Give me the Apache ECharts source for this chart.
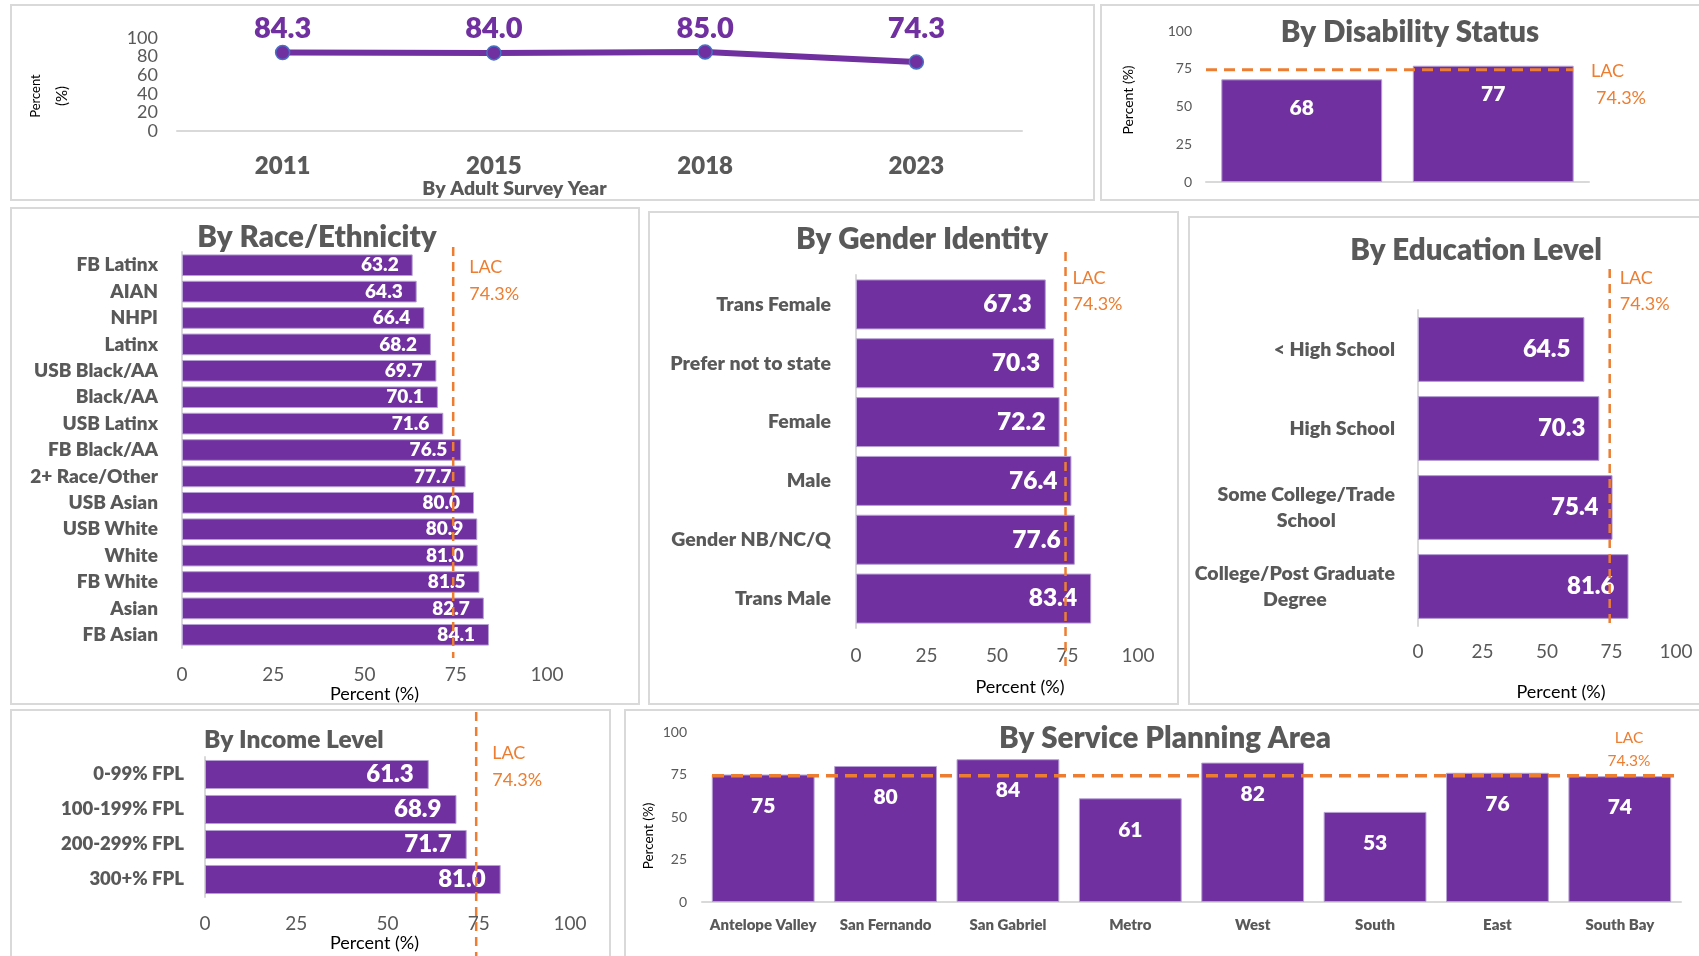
<!DOCTYPE html>
<html>
<head>
<meta charset="utf-8">
<script src="https://cdn.jsdelivr.net/npm/echarts@6/dist/echarts.min.js"></script>
<style>
  html, body { margin: 0; padding: 0; background: #ffffff; }
  #chart { width: 1699px; height: 956px; }
</style>
</head>
<body>
<div id="chart"></div>
<script>
// ---- Data ----
const lacRate = 74.3;

const surveyYears = ['2011', '2015', '2018', '2023'];
const surveyRates = [84.3, 84.0, 85.0, 74.3];

const disabilityGroups = ['With Disability', 'Without Disability'];
const disabilityRates = [68, 77];

const raceGroups = ['FB Latinx', 'AIAN', 'NHPI', 'Latinx', 'USB Black/AA', 'Black/AA', 'USB Latinx',
  'FB Black/AA', '2+ Race/Other', 'USB Asian', 'USB White', 'White', 'FB White', 'Asian', 'FB Asian'];
const raceRates = [63.2, 64.3, 66.4, 68.2, 69.7, 70.1, 71.6, 76.5, 77.7, 80.0, 80.9, 81.0, 81.5, 82.7, 84.1];

const genderGroups = ['Trans Female', 'Prefer not to state', 'Female', 'Male', 'Gender NB/NC/Q', 'Trans Male'];
const genderRates = [67.3, 70.3, 72.2, 76.4, 77.6, 83.4];

const educationGroups = ['< High School', 'High School', 'Some College/Trade\nSchool', 'College/Post Graduate\nDegree'];
const educationRates = [64.5, 70.3, 75.4, 81.6];

const incomeGroups = ['0-99% FPL', '100-199% FPL', '200-299% FPL', '300+% FPL'];
const incomeRates = [61.3, 68.9, 71.7, 81.0];

const spaAreas = ['Antelope Valley', 'San Fernando', 'San Gabriel', 'Metro', 'West', 'South', 'East', 'South Bay'];
const spaRates = [75, 80, 84, 61, 82, 53, 76, 74];

// ---- Styling ----
const FONT = 'Lato, "Open Sans", sans-serif';
const HEAVY = 800;
const PURPLE = '#7030A0';
const ORANGE = '#ED7D31';
const GRAY = '#595959';
const RULE = '#D9D9D9';

const chart = echarts.init(document.getElementById('chart'), null, { renderer: 'canvas' });

const grids = [], xAxes = [], yAxes = [], series = [];

// ---- Trend line by survey year ----
grids.push({ left: 177, top: 38, width: 845, height: 93 });
xAxes.push({
  gridIndex: 0, type: 'category', data: surveyYears,
  axisLine: { lineStyle: { color: RULE, width: 2 } }, axisTick: { show: false },
  axisLabel: { color: GRAY, fontFamily: FONT, fontWeight: HEAVY, fontSize: 24, margin: 23 },
  name: 'By Adult Survey Year', nameLocation: 'middle', nameGap: 43,
  nameTextStyle: { color: GRAY, fontFamily: FONT, fontWeight: HEAVY, fontSize: 19.5, padding: [0, 170, 0, 0] }
});
yAxes.push({
  gridIndex: 0, type: 'value', min: 0, max: 100, interval: 20,
  axisLine: { show: false }, axisTick: { show: false }, splitLine: { show: false },
  axisLabel: { color: GRAY, fontFamily: FONT, fontSize: 18, margin: 19 }
});
series.push({
  id: 'survey', type: 'line', xAxisIndex: 0, yAxisIndex: 0, data: surveyRates,
  symbol: 'circle', symbolSize: 14,
  lineStyle: { color: PURPLE, width: 6 },
  itemStyle: { color: PURPLE, borderColor: '#4472C4', borderWidth: 1.5 },
  label: { show: true, position: 'inside', color: PURPLE, fontFamily: FONT, fontWeight: HEAVY, fontSize: 29,
    formatter: p => Number(p.value).toFixed(1) },
  z: 3
});

// ---- Vertical bar panels ----
function columnPanel(g, cats, vals, o) {
  grids.push(o.grid);
  xAxes.push({
    gridIndex: g, type: 'category', data: cats,
    axisLine: { lineStyle: { color: RULE, width: 2 } }, axisTick: { show: false },
    axisLabel: o.catLabels ? { color: GRAY, fontFamily: FONT, fontWeight: HEAVY, fontSize: o.catSize, margin: o.catMargin, interval: 0 } : { show: false }
  });
  yAxes.push({
    gridIndex: g, type: 'value', min: 0, max: 100, interval: 25,
    axisLine: { show: false }, axisTick: { show: false }, splitLine: { show: false },
    axisLabel: { color: GRAY, fontFamily: FONT, fontSize: o.tickSize, margin: o.tickMargin }
  });
  series.push({
    type: 'bar', xAxisIndex: g, yAxisIndex: g, data: vals, barCategoryGap: o.gap,
    itemStyle: { color: PURPLE, borderColor: '#B7A0D3', borderWidth: 1 },
    label: { show: true, position: 'insideTop', distance: o.labelDist, color: '#ffffff', fontFamily: FONT,
      fontWeight: HEAVY, fontSize: o.valSize, formatter: p => String(Math.round(p.value)) }
  });
}

// ---- Horizontal bar panels ----
function barPanel(g, cats, vals, o) {
  grids.push(o.grid);
  xAxes.push({
    gridIndex: g, type: 'value', min: 0, max: 100, interval: 25,
    axisLine: { show: false }, axisTick: { show: false }, splitLine: { show: false },
    axisLabel: { color: GRAY, fontFamily: FONT, fontSize: 19, margin: o.tickMargin },
    name: 'Percent (%)', nameLocation: 'middle', nameGap: o.nameGap,
    nameTextStyle: { color: '#000000', fontFamily: FONT, fontSize: 18, padding: o.namePad }
  });
  yAxes.push({
    gridIndex: g, type: 'category', data: cats, inverse: true,
    axisLine: { lineStyle: { color: RULE, width: 2 } }, axisTick: { show: false },
    axisLabel: { color: GRAY, fontFamily: FONT, fontWeight: HEAVY, fontSize: o.catSize, margin: o.catMargin,
      interval: 0, lineHeight: o.catLineHeight || undefined }
  });
  series.push({
    type: 'bar', xAxisIndex: g, yAxisIndex: g, data: vals, barCategoryGap: o.gap,
    itemStyle: { color: PURPLE, borderColor: '#B7A0D3', borderWidth: 1 },
    label: { show: true, position: 'insideRight', distance: o.labelDist, color: '#ffffff', fontFamily: FONT,
      fontWeight: HEAVY, fontSize: o.valSize, formatter: p => Number(p.value).toFixed(1) }
  });
}

columnPanel(1, disabilityGroups, disabilityRates, {
  grid: { left: 1206, top: 31, width: 383, height: 151 }, gap: '16%',
  tickSize: 14, tickMargin: 14, valSize: 21, labelDist: 18, catLabels: false
});
barPanel(2, raceGroups, raceRates, {
  grid: { left: 182, top: 252, width: 365, height: 396 }, gap: '18%',
  catSize: 19, catMargin: 24, valSize: 19, labelDist: 14, tickMargin: 17, nameGap: 35, namePad: [0, 0, 0, 20]
});
barPanel(3, genderGroups, genderRates, {
  grid: { left: 856, top: 275, width: 282, height: 353 }, gap: '15%',
  catSize: 19.5, catMargin: 25, valSize: 24.5, labelDist: 14, tickMargin: 18, nameGap: 50, namePad: [0, 0, 0, 46]
});

// Multi-line education labels: lines centred on each other, block right-aligned against the axis
const EDU_CAT_SIZE = 19.5;
const measureCtx = document.createElement('canvas').getContext('2d');
measureCtx.font = HEAVY + ' ' + EDU_CAT_SIZE + 'px ' + FONT;
const educationAxisData = educationGroups.map(name => {
  const lines = name.split('\n');
  if (lines.length === 1) return name;
  const w = Math.max(...lines.map(l => measureCtx.measureText(l).width));
  return { value: name, textStyle: { align: 'center', padding: [0, w, 0, 0] } };
});
barPanel(4, educationGroups, educationRates, {
  grid: { left: 1418, top: 310, width: 258, height: 316 }, gap: '18%',
  catSize: EDU_CAT_SIZE, catMargin: 23, catLineHeight: 26, valSize: 24, labelDist: 14, tickMargin: 16, nameGap: 57, namePad: [0, 0, 0, 28]
});
yAxes[4].data = educationAxisData;

barPanel(5, incomeGroups, incomeRates, {
  grid: { left: 205, top: 757, width: 365, height: 140 }, gap: '17%',
  catSize: 18.5, catMargin: 21, valSize: 24, labelDist: 15, tickMargin: 17, nameGap: 29, namePad: [0, 26, 0, 0]
});
columnPanel(6, spaAreas, spaRates, {
  grid: { left: 702, top: 732, width: 979, height: 170 }, gap: '16%',
  tickSize: 14, tickMargin: 15, valSize: 21, labelDist: 21, catLabels: true, catSize: 15, catMargin: 16
});

// ---- Panel frames, titles, axis titles ----
const panels = [
  [11, 5, 1083, 195], [1101, 5, 620, 195],
  [11, 208, 628, 496], [649, 212, 529, 492], [1189, 217, 530, 487],
  [11, 710, 599, 260], [625, 710, 1100, 260]
];
const titles = [
  ['By Disability Status', 1410, 32, 'center', 29.5],
  ['By Race/Ethnicity', 317, 237, 'center', 29.5],
  ['By Gender Identity', 922, 239, 'center', 29.5],
  ['By Education Level', 1476, 250, 'center', 29.5],
  ['By Income Level', 204, 740, 'left', 24.5],
  ['By Service Planning Area', 1165, 738, 'center', 29.5]
];
function textEl(text, x, y, align, font, fill, rotation, z) {
  return {
    type: 'text', x: x, y: y, rotation: rotation || 0, z: z || 10,
    style: { text: text, fill: fill, font: font, align: align, verticalAlign: 'middle',
      textAlign: align, textVerticalAlign: 'middle' }
  };
}
const baseGraphics = [];
panels.forEach(p => baseGraphics.push({
  type: 'rect', shape: { x: p[0], y: p[1], width: p[2], height: p[3] },
  style: { fill: 'none', stroke: RULE, lineWidth: 2 }, z: 0, silent: true
}));
titles.forEach(t => baseGraphics.push(textEl(t[0], t[1], t[2], t[3], HEAVY + ' ' + t[4] + 'px ' + FONT, GRAY)));
baseGraphics.push(textEl('Percent', 36, 96, 'center', '13px ' + FONT, '#000000', Math.PI / 2));
baseGraphics.push(textEl('(%)', 62, 96, 'center', '15px ' + FONT, '#000000', Math.PI / 2));
baseGraphics.push(textEl('Percent (%)', 1128, 100, 'center', '14px ' + FONT, '#000000', Math.PI / 2));
baseGraphics.push(textEl('Percent (%)', 649, 836, 'center', '13.5px ' + FONT, '#000000', Math.PI / 2));

chart.setOption({
  animation: false,
  backgroundColor: '#ffffff',
  textStyle: { fontFamily: FONT },
  grid: grids, xAxis: xAxes, yAxis: yAxes, series: series,
  graphic: { elements: baseGraphics }
});

// ---- Values placed through the axes' scales ----
// Year labels share one baseline above the trend line
const yearLabelY = 29;
const surveyData = surveyRates.map((v, i) => {
  const p = chart.convertToPixel({ gridIndex: 0 }, [surveyYears[i], v]);
  return { value: v, label: { offset: [0, yearLabelY - p[1]] } };
});

// County (LAC) reference lines
const lacText = ['LAC', lacRate.toFixed(1) + '%'];
const vertLac = [
  { g: 2, cat: raceGroups[0], y1: 247, y2: 658, dx: 16, ty: [267, 294], size: 18 },
  { g: 3, cat: genderGroups[0], y1: 252, y2: 666, dx: 7, ty: [278, 304], size: 18 },
  { g: 4, cat: educationGroups[0], y1: 269, y2: 628, dx: 10, ty: [278, 304], size: 18 },
  { g: 5, cat: incomeGroups[0], y1: 712, y2: 956, dx: 16, ty: [753, 780], size: 18 }
];
const lacGraphics = [];
vertLac.forEach(s => {
  const x = chart.convertToPixel({ gridIndex: s.g }, [lacRate, s.cat])[0];
  lacGraphics.push({ type: 'line', z: 100, silent: true,
    shape: { x1: x, y1: s.y1, x2: x, y2: s.y2 },
    style: { stroke: ORANGE, lineWidth: 2.5, lineDash: [9, 6] } });
  lacGraphics.push(textEl(lacText[0], x + s.dx, s.ty[0], 'left', s.size + 'px ' + FONT, ORANGE, 0, 100));
  lacGraphics.push(textEl(lacText[1], x + s.dx, s.ty[1], 'left', s.size + 'px ' + FONT, ORANGE, 0, 100));
});
// Disability panel
{
  const y = chart.convertToPixel({ gridIndex: 1 }, [disabilityGroups[0], lacRate])[1];
  lacGraphics.push({ type: 'line', z: 100, silent: true,
    shape: { x1: 1206, y1: y, x2: 1573, y2: y },
    style: { stroke: ORANGE, lineWidth: 3, lineDash: [11, 7] } });
  lacGraphics.push(textEl(lacText[0], 1591, y + 1, 'left', '18px ' + FONT, ORANGE, 0, 100));
  lacGraphics.push(textEl(lacText[1], 1596, y + 28, 'left', '18px ' + FONT, ORANGE, 0, 100));
}
// Service planning area panel
{
  const y = chart.convertToPixel({ gridIndex: 6 }, [spaAreas[0], lacRate])[1];
  lacGraphics.push({ type: 'line', z: 100, silent: true,
    shape: { x1: 712, y1: y, x2: 1680, y2: y },
    style: { stroke: ORANGE, lineWidth: 3.5, lineDash: [12, 7] } });
  lacGraphics.push(textEl(lacText[0], 1629, y - 38, 'center', '15.5px ' + FONT, ORANGE, 0, 100));
  lacGraphics.push(textEl(lacText[1], 1629, y - 15, 'center', '15.5px ' + FONT, ORANGE, 0, 100));
}

chart.setOption({
  series: [{ id: 'survey', data: surveyData }],
  graphic: { elements: baseGraphics.concat(lacGraphics) }
});
</script>
</body>
</html>
